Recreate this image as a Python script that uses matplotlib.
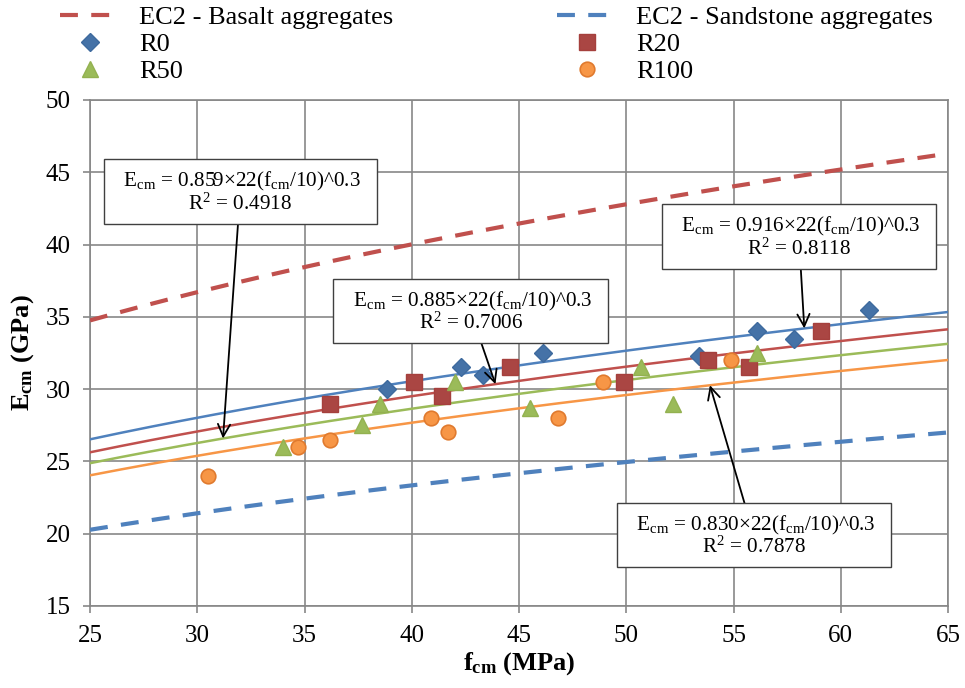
import numpy as np
import matplotlib
matplotlib.use("Agg")
import matplotlib.pyplot as plt

plt.rcParams['font.family'] = ['Liberation Serif', 'DejaVu Serif']
plt.rcParams['mathtext.fontset'] = 'custom'
plt.rcParams['mathtext.rm'] = 'Liberation Serif'
plt.rcParams['mathtext.it'] = 'Liberation Serif:italic'
plt.rcParams['mathtext.bf'] = 'Liberation Serif:bold'

# measured points (fcm in MPa, Ecm in GPa)
r0_fcm = [38.85, 42.3, 43.3, 46.1, 53.4, 56.1, 57.8, 61.3]
r0_ecm = [30.0, 31.5, 31.0, 32.5, 32.3, 34.0, 33.5, 35.5]
r20_fcm = [36.2, 40.1, 41.4, 44.6, 49.9, 53.8, 55.7, 59.1]
r20_ecm = [29.0, 30.5, 29.5, 31.5, 30.5, 32.0, 31.5, 34.0]
r50_fcm = [34.0, 37.7, 38.5, 42.0, 45.5, 50.7, 52.2, 56.1]
r50_ecm = [26.0, 27.5, 29.0, 30.5, 28.7, 31.5, 29.0, 32.5]
r100_fcm = [30.5, 34.7, 36.2, 40.9, 41.7, 46.8, 48.9, 54.9]
r100_ecm = [24.0, 26.0, 26.5, 28.0, 27.0, 28.0, 30.5, 32.0]

# coefficients of Ecm = k*22*(fcm/10)^0.3
ec2_basalt_k = 1.2
ec2_sandstone_k = 0.7
fit_k = {'R0': 0.916, 'R20': 0.885, 'R50': 0.859, 'R100': 0.830}
fit_r2 = {'R0': '0.8118', 'R20': '0.7006', 'R50': '0.4918', 'R100': '0.7878'}


def ec2(k, f):
    return k * 22 * (np.asarray(f) / 10.0) ** 0.3


fig = plt.figure(figsize=(9.65, 6.88), dpi=100)
ax = fig.add_axes([0.0933, 0.1192, 0.8891, 0.7355])

f = np.linspace(25, 65, 200)
dash = (0, (4.3, 3.2))
ax.plot(f, ec2(ec2_basalt_k, f), color='#C0504D', lw=3, linestyle=dash,
        label='EC2 - Basalt aggregates', zorder=3)
ax.plot(f, ec2(ec2_sandstone_k, f), color='#4F81BD', lw=3, linestyle=dash,
        label='EC2 - Sandstone aggregates', zorder=3)

colors = {'R0': '#4F81BD', 'R20': '#C0504D', 'R50': '#9BBB59', 'R100': '#F79646'}
for name in ['R0', 'R20', 'R50', 'R100']:
    ax.plot(f, ec2(fit_k[name], f), color=colors[name], lw=1.8, zorder=3)

ax.plot(r0_fcm, r0_ecm, 'D', color='#4572A7', ms=9, mec='#3E6A9E', ls='none',
        label='R0', zorder=4)
ax.plot(r20_fcm, r20_ecm, 's', color='#AA4643', ms=11, mec='#A5403D', ls='none',
        label='R20', zorder=4)
ax.plot(r50_fcm, r50_ecm, '^', color='#9BBB59', ms=11, mec='#93B150', ls='none',
        label='R50', zorder=4)
ax.plot(r100_fcm, r100_ecm, 'o', color='#F79646', ms=10.5, mec='#E07A2E', mew=1.2,
        ls='none', label='R100', zorder=4)

ax.set_xlim(25, 65)
ax.set_ylim(15, 50)
ax.set_xticks(range(25, 66, 5))
ax.set_yticks(range(15, 51, 5))
ax.grid(True, color='#878787', lw=1.2)
ax.set_axisbelow(True)
for sp in ax.spines.values():
    sp.set_color('#878787')
    sp.set_linewidth(1.2)
ax.tick_params(direction='out', length=5, width=1.2, color='#878787',
               labelsize=18, pad=9)

ax.set_xlabel(r'$\mathbf{f_{cm}}$ (MPa)', fontsize=19, fontweight='bold', labelpad=2)
ax.set_ylabel(r'$\mathbf{E_{cm}}$ (GPa)', fontsize=19, fontweight='bold', labelpad=7)

# equation boxes with arrows pointing at the fitted lines
boxes = [
    ('R50', (32.0, 43.6), 31.2),
    ('R20', (42.74, 35.35), 43.9),
    ('R0', (58.05, 40.5), 58.3),
    ('R100', (55.96, 19.85), 53.9),
]
for name, xytext, fx in boxes:
    # arrow from the box centre; the opaque box drawn on top hides the inner part
    ax.annotate('', xy=(fx, float(ec2(fit_k[name], fx))), xytext=xytext,
                arrowprops=dict(arrowstyle='->', color='black', lw=1.3,
                                mutation_scale=22, shrinkA=0, shrinkB=0),
                zorder=5)
    txt = (r'  E$_{\mathrm{cm}}$ = %.3f×22(f$_{\mathrm{cm}}$/10)^0.3  ' % fit_k[name]
           + '\n' + r'R$^{2}$ = ' + fit_r2[name])
    ax.text(xytext[0], xytext[1], txt, ha='center', va='center', fontsize=15.2,
            linespacing=1.0, zorder=7,
            bbox=dict(boxstyle='square,pad=0.45', fc='white', ec='#404040', lw=1.0))

handles, labels = ax.get_legend_handles_labels()
order = [0, 2, 4, 1, 3, 5]
fig.legend([handles[i] for i in order], [labels[i] for i in order],
           loc='upper left', bbox_to_anchor=(0.062, 0.992), ncol=2, frameon=False,
           fontsize=19, handlelength=2.3, columnspacing=6.2, labelspacing=0.14,
           handletextpad=0.7, borderaxespad=0, borderpad=0)

fig.savefig('out.png', dpi=100)
